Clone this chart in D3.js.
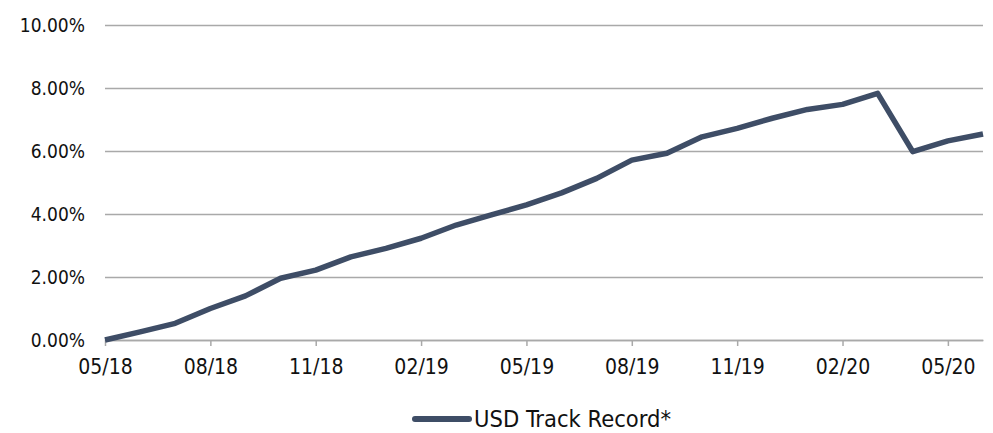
<!DOCTYPE html>
<html>
<head>
<meta charset="utf-8">
<script src="https://cdn.jsdelivr.net/npm/d3@7"></script>
<style>
  body { margin: 0; background: #fff; }
  svg text { font-family: "DejaVu Sans Condensed", "DejaVu Sans", sans-serif; fill: #111; }
</style>
</head>
<body>
<script>
// monthly track record, 05/18 .. 06/20
const months = [
    "05/18", "06/18", "07/18", "08/18", "09/18", "10/18", "11/18", "12/18",
    "01/19", "02/19", "03/19", "04/19", "05/19", "06/19", "07/19", "08/19",
    "09/19", "10/19", "11/19", "12/19", "01/20", "02/20", "03/20", "04/20",
    "05/20", "06/20"
]
const trackRecord = [
    0.00, 0.26, 0.53, 1.00, 1.40, 1.96, 2.22, 2.64,
    2.91, 3.23, 3.65, 3.97, 4.29, 4.67, 5.13, 5.71,
    5.93, 6.45, 6.72, 7.04, 7.32, 7.48, 7.83, 5.98,
    6.32, 6.54
]
const yTicks = [0, 2, 4, 6, 8, 10]
const xTicks = ["05/18", "08/18", "11/18", "02/19", "05/19", "08/19", "11/19", "02/20", "05/20"]
const seriesName = "USD Track Record*"

const width = 993
const height = 433
const ivp = {x: 105, y: 25, w: 983, h: 340}
const lineColor = "#3e4d66"
const gridColor = "#a9a9a9"

const svg = d3.select("body")
    .append("svg")
    .attr("width", width)
    .attr("height", height)

const xScale = d3.scalePoint()
    .domain(months)
    .range([ivp.x, ivp.w])

const yScale = d3.scaleLinear()
    .domain([0, 10])
    .range([ivp.h, ivp.y])

// gridlines + y labels
const yAxis = svg.append("g")
    .attr("transform", `translate(${ivp.x},0)`)
    .call(d3.axisLeft(yScale)
        .tickValues(yTicks)
        .tickSize(-(ivp.w - ivp.x))
        .tickPadding(20)
        .tickFormat(d => d.toFixed(2) + "%"))
yAxis.select(".domain").remove()
yAxis.selectAll(".tick line")
    .attr("stroke", gridColor)
    .attr("stroke-width", 1.5)
yAxis.selectAll(".tick text")
    .attr("font-size", 19)

// x axis
const xAxis = svg.append("g")
    .attr("transform", `translate(0,${ivp.h})`)
    .call(d3.axisBottom(xScale)
        .tickValues(xTicks)
        .tickSize(6)
        .tickSizeOuter(0)
        .tickPadding(13))
xAxis.select(".domain")
    .attr("stroke", gridColor)
    .attr("stroke-width", 1.5)
xAxis.selectAll(".tick line")
    .attr("stroke", gridColor)
    .attr("stroke-width", 1.5)
xAxis.selectAll(".tick text")
    .attr("font-size", 21)

// series
const line = d3.line()
    .x((d, i) => xScale(months[i]))
    .y(d => yScale(d))

svg.append("path")
    .datum(trackRecord)
    .attr("d", line)
    .attr("fill", "none")
    .attr("stroke", lineColor)
    .attr("stroke-width", 5.5)
    .attr("stroke-linejoin", "round")

// legend
const legend = svg.append("g")
legend.append("line")
    .attr("x1", 415).attr("x2", 469)
    .attr("y1", 419).attr("y2", 419)
    .attr("stroke", lineColor)
    .attr("stroke-width", 6)
    .attr("stroke-linecap", "round")
legend.append("text")
    .attr("x", 474)
    .attr("y", 427)
    .attr("font-size", 23.5)
    .text(seriesName)
</script>
</body>
</html>
